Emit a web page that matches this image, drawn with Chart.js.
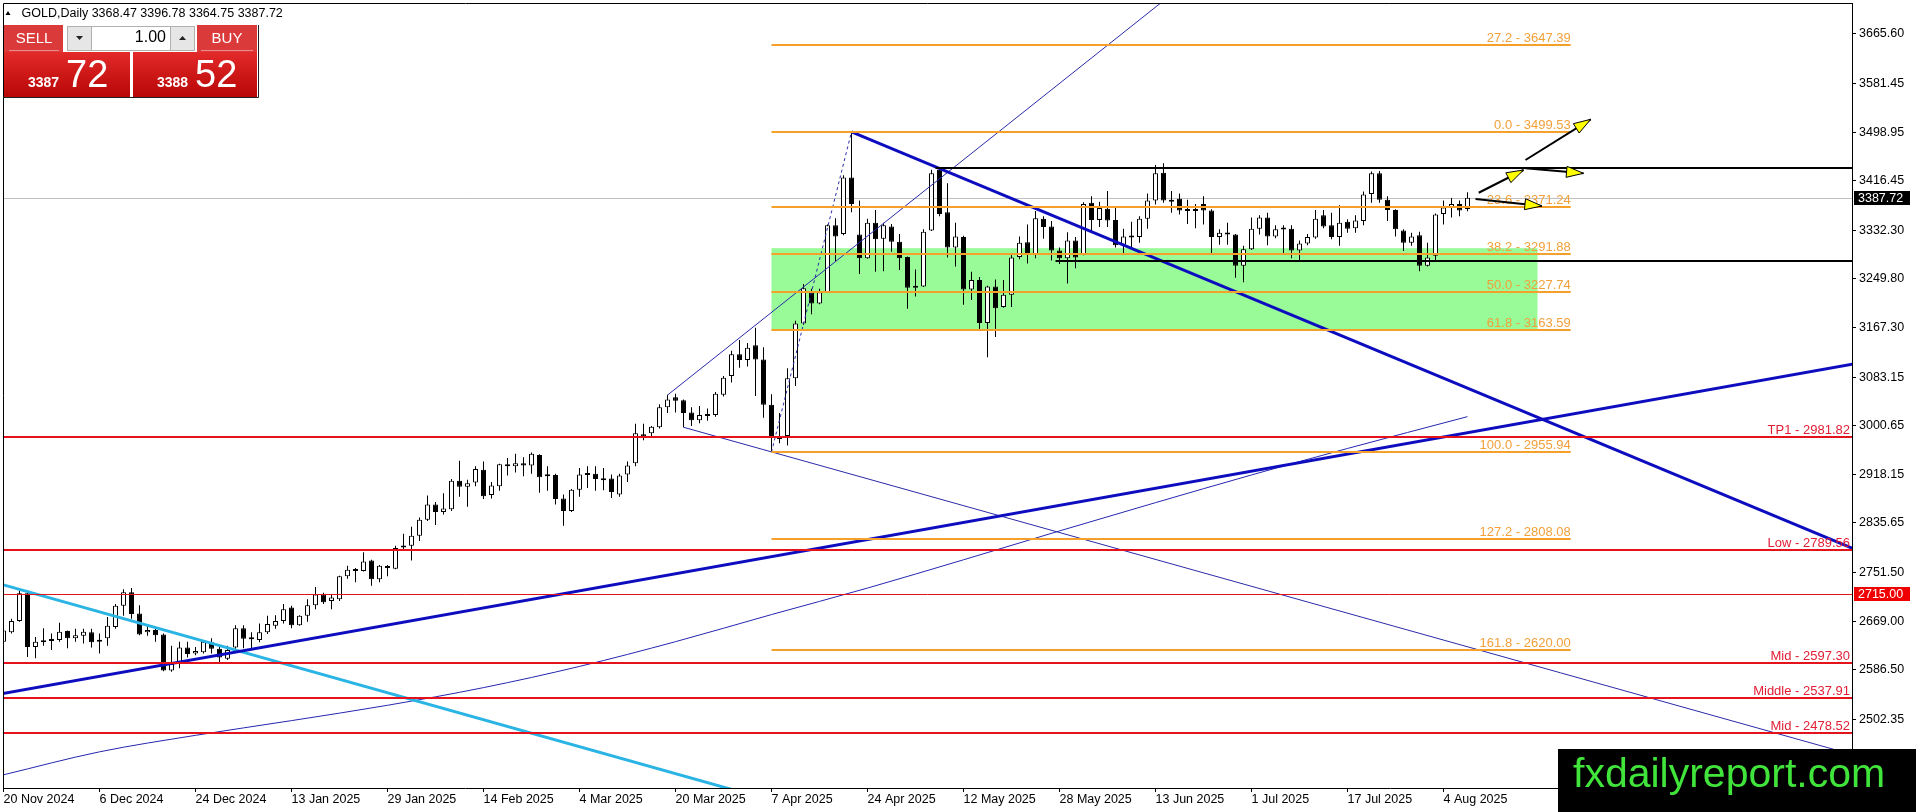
<!DOCTYPE html>
<html>
<head>
<meta charset="utf-8">
<script src="https://cdn.jsdelivr.net/npm/chart.js@4.4.1/dist/chart.umd.min.js"></script>
<style>
  html, body { margin: 0; padding: 0; background: #fff; overflow: hidden; }
  canvas { display: block; }
</style>
</head>
<body>
<canvas id="c" width="1916" height="812" style="width:1916px;height:812px"></canvas>
<script>
// ── DATA ──
const dateBars = [0, 12, 24, 36, 48, 60, 72, 84, 96, 108, 120, 132, 144, 156, 168, 180];
const dateLabels = ['20 Nov 2024', '6 Dec 2024', '24 Dec 2024', '13 Jan 2025', '29 Jan 2025', '14 Feb 2025',
  '4 Mar 2025', '20 Mar 2025', '7 Apr 2025', '24 Apr 2025', '12 May 2025', '28 May 2025',
  '13 Jun 2025', '1 Jul 2025', '17 Jul 2025', '4 Aug 2025'];
const priceTicks = [3665.60, 3581.45, 3498.95, 3416.45, 3332.30, 3249.80, 3167.30, 3083.15,
  3000.65, 2918.15, 2835.65, 2751.50, 2669.00, 2586.50, 2502.35, 2419.85];

const candleOpen = [
  2634,2650,2669,2716,2625,2633,2638,2637,2652,2640,
  2644,2650,2636,2640,2659,2695,2718,2682,2650,2654,
  2646,2585,2596,2624,2614,2616,2633,2622,2605,2624,
  2657,2641,2637,2650,2661,2669,2692,2662,2678,2696,
  2714,2703,2706,2745,2754,2754,2772,2740,2762,2758,
  2794,2797,2814,2841,2867,2854,2859,2907,2897,2904,
  2926,2883,2898,2935,2932,2937,2933,2951,2916,2917,
  2877,2856,2892,2917,2919,2910,2911,2884,2918,2937,
  2986,2988,2998,3032,3049,3044,3023,3010,3017,3019,
  3053,3085,3122,3112,3137,3113,3036,2978,2983,3081,
  3174,3227,3208,3227,3341,3326,3422,3325,3285,3345,
  3318,3339,3313,3287,3236,3237,3332,3435,3363,3303,
  3321,3232,3248,3175,3237,3202,3223,3287,3312,3291,
  3352,3339,3298,3285,3315,3291,3379,3350,3369,3350,
  3308,3322,3321,3352,3383,3430,3384,3386,3367,3367,
  3377,3366,3321,3328,3325,3272,3300,3335,3354,3322,
  3333.5,3335,3298,3310,3320,3358,3341,3321,3347,3336,
  3348,3394,3429,3384,3367,3332,3311,3324,3272,3289,
  3360,3370,3377,3368.47];
const candleHigh = [
  2660,2673,2721,2721,2642,2657,2648,2666,2653,2656,
  2656,2656,2648,2676,2698,2723,2725,2696,2662,2659,
  2648,2627,2634,2634,2625,2637,2640,2627,2627,2662,
  2662,2650,2665,2678,2679,2698,2695,2679,2706,2727,
  2717,2714,2746,2763,2759,2786,2773,2764,2764,2797,
  2817,2829,2845,2882,2871,2886,2910,2941,2909,2932,
  2940,2905,2936,2946,2953,2947,2955,2952,2932,2919,
  2884,2893,2929,2932,2932,2929,2918,2919,2940,3004,
  3004,3000,3037,3053,3055,3045,3032,3034,3030,3058,
  3085,3128,3146,3141,3167,3134,3054,3022,3098,3179,
  3241,3233,3233,3342,3353,3426,3499.5,3383,3352,3367,
  3345,3343,3326,3288,3266,3334,3435,3438,3412,3345,
  3323,3262,3253,3238,3249,3248,3293,3322,3342,3365,
  3356,3348,3303,3329,3321,3380,3390,3381,3399,3373,
  3335,3347,3356,3395,3443,3446,3399,3395,3384,3377,
  3390,3368,3334,3345,3326,3306,3354,3358,3362,3341,
  3341,3341,3315,3326,3367,3367,3362,3375,3351,3358,
  3398,3432,3433,3390,3368,3334,3328,3330,3311,3361,
  3383,3387,3383,3396.78];
const candleLow = [
  2618,2648,2668,2608,2606,2627,2620,2634,2623,2634,
  2631,2624,2614,2627,2656,2678,2673,2645,2644,2634,
  2584,2583,2589,2607,2611,2614,2614,2596,2603,2622,
  2623,2620,2633,2647,2656,2665,2657,2661,2668,2689,
  2698,2689,2703,2741,2735,2753,2729,2735,2745,2757,
  2790,2772,2805,2839,2832,2850,2856,2880,2863,2898,
  2876,2877,2890,2916,2921,2915,2919,2887,2890,2867,
  2831,2854,2880,2895,2890,2891,2878,2880,2905,2932,
  2976,2982,2996,3022,3023,2998,3000,3005,3009,3016,
  3050,3074,3099,3101,3051,3014,2956,2971,2967,3068,
  3172,3190,3207,3226,3280,3324,3363,3258,3284,3262,
  3263,3296,3265,3199,3220,3236,3331,3356,3286,3271,
  3206,3214,3165,3117,3151,3201,3202,3283,3276,3285,
  3318,3281,3275,3242,3268,3290,3328,3338,3338,3303,
  3294,3300,3311,3335,3376,3379,3362,3359,3343,3336,
  3342,3293,3308,3308,3252,3244,3299,3325,3307,3319,
  3293,3285,3279,3307,3318,3336,3317,3306,3328,3328,
  3341,3379,3379,3348,3322,3297,3306,3263,3271,3281,
  3342,3354,3356,3364.75];
const candleClose = [
  2653,2669,2716,2625,2634,2636,2635,2651,2640,2645,
  2651,2633,2634,2661,2695,2718,2681,2646,2654,2645,
  2585,2596,2624,2613,2618,2634,2622,2607,2620,2657,
  2639,2638,2650,2664,2669,2689,2662,2678,2696,2714,
  2701,2709,2745,2756,2756,2770,2740,2763,2759,2793,
  2797,2814,2841,2867,2854,2860,2907,2897,2903,2927,
  2881,2899,2935,2932,2937,2933,2953,2913,2915,2876,
  2856,2892,2918,2919,2910,2908,2888,2916,2933,2988,
  2982,2999,3032,3045,3043,3022,3010,3019,3019,3055,
  3082,3122,3112,3133,3113,3036,2983,2982,3081,3174,
  3234,3208,3227,3341,3322,3422,3377,3285,3345,3317,
  3341,3313,3285,3235,3235,3330,3429,3360,3303,3322,
  3232,3248,3175,3237,3200,3223,3286,3311,3291,3353,
  3338,3298,3285,3315,3286,3377,3350,3370,3349,3307,
  3322,3320,3352,3383,3429,3383,3381,3366,3365,3365,
  3366,3321,3328,3325,3272,3300,3335,3354,3322,3334,
  3335.5,3298,3310,3321,3352,3339,3321,3345,3335,3349,
  3393,3429,3384,3367,3334,3311,3322,3272,3286,3359,
  3371,3377,3366,3387.72];

// moving average
const maBars = [0, 12, 24, 36, 48, 60, 72, 84, 96, 108, 120, 132, 144, 156, 168, 183];
const maValues = [2408, 2447, 2475, 2500, 2526, 2556, 2592, 2634, 2680, 2725, 2773, 2822, 2870, 2917, 2962, 3016];

// trend lines as [bar, price] anchor pairs
const trendAsc = [[-0.4, 2545.2], [231.2, 3105.4]];
const trendDesc = [[106, 3499.5], [231.2, 2792]];
const chanTop = [[83, 3052.6], [150, 3776]];
const chanLow = [[85, 2998], [231.2, 2442]];
const cyanLine = [[-0.4, 2731.9], [95, 2368]];
const fibAnchor = [[96, 2955.94], [106, 3499.53]];

const fibRatios = ['27.2', '0.0', '23.6', '38.2', '50.0', '61.8', '100.0', '127.2', '161.8'];
const fibPrices = [3647.39, 3499.53, 3371.24, 3291.88, 3227.74, 3163.59, 2955.94, 2808.08, 2620.00];
const fibBars = [96, 195.9];

const levelNames = ['TP1', 'Low', '', 'Mid', 'Middle', 'Mid'];
const levelPrices = [2981.82, 2789.56, 2715.00, 2597.30, 2537.91, 2478.52];

const zoneBars = [96, 191.75];
const zonePrices = [3302, 3162];

const rangePrices = [3438.5, 3281];
const rangeStartBars = [116.5, 131.5];

const arrowFromBar = [184, 184.4, 190.25, 190.25];
const arrowFromPrice = [3385.5, 3396.1, 3437.6, 3451.7];
const arrowToBar = [192.3, 190.0, 197.5, 198.4];
const arrowToPrice = [3373.6, 3434.7, 3429.1, 3520.7];

const lastPrice = 3387.72;
const ohlcHeader = 'GOLD,Daily 3368.47 3396.78 3364.75 3387.72';

// ── HELPERS ──
const FONT = '"Liberation Sans", Arial, sans-serif';
const seg = pts => pts.map(p => ({ x: p[0], y: p[1] }));

function hline(ctx, x0, x1, y, w, color) {
  const yy = w % 2 ? Math.round(y) + 0.5 : Math.round(y);
  ctx.strokeStyle = color; ctx.lineWidth = w;
  ctx.beginPath(); ctx.moveTo(x0, yy); ctx.lineTo(x1, yy); ctx.stroke();
}

function arrow(ctx, xa, ya, xb, yb) {
  ctx.strokeStyle = '#000'; ctx.lineWidth = 2;
  ctx.beginPath(); ctx.moveTo(xa, ya); ctx.lineTo(xb, yb); ctx.stroke();
  const ang = Math.atan2(yb - ya, xb - xa), L = 17, W = 5.5;
  const bx = xb - L * Math.cos(ang), by = yb - L * Math.sin(ang);
  ctx.beginPath();
  ctx.moveTo(xb, yb);
  ctx.lineTo(bx + W * Math.sin(ang), by - W * Math.cos(ang));
  ctx.lineTo(bx - W * Math.sin(ang), by + W * Math.cos(ang));
  ctx.closePath();
  ctx.fillStyle = '#ffff00'; ctx.fill();
  ctx.lineWidth = 1; ctx.stroke();
}

function axisBox(ctx, y, text, bg) {
  ctx.fillStyle = bg;
  ctx.fillRect(1854, Math.round(y) - 7, 56, 14);
  ctx.fillStyle = '#fff';
  ctx.font = '12.5px ' + FONT;
  ctx.textAlign = 'left'; ctx.textBaseline = 'middle';
  ctx.fillText(text, 1858, Math.round(y) + 0.5);
}

function drawPanel(ctx) {
  // small SELL / BUY buttons
  ctx.fillStyle = '#da3a3a';
  ctx.fillRect(4, 25, 59, 27);
  ctx.fillRect(197, 25, 60, 27);
  ctx.fillStyle = '#ee8a8a';
  ctx.fillRect(9, 50, 50, 1);
  ctx.fillRect(201, 50, 52, 1);
  ctx.fillStyle = '#fff';
  ctx.font = '15px ' + FONT;
  ctx.textAlign = 'center'; ctx.textBaseline = 'middle';
  ctx.fillText('SELL', 34, 39);
  ctx.fillText('BUY', 227, 39);

  // lot spinner
  ctx.fillStyle = '#e6e6e6';
  ctx.fillRect(67.5, 26.5, 24, 24);
  ctx.fillRect(170.5, 26.5, 24, 24);
  ctx.fillStyle = '#fff';
  ctx.fillRect(91.5, 26.5, 79, 24);
  ctx.strokeStyle = '#b0b0b0'; ctx.lineWidth = 1;
  ctx.strokeRect(67.5, 26.5, 127, 24);
  ctx.beginPath(); ctx.moveTo(91.5, 26.5); ctx.lineTo(91.5, 50.5);
  ctx.moveTo(170.5, 26.5); ctx.lineTo(170.5, 50.5); ctx.stroke();
  ctx.fillStyle = '#222';
  ctx.beginPath(); ctx.moveTo(76, 36); ctx.lineTo(83, 36); ctx.lineTo(79.5, 40); ctx.closePath(); ctx.fill();
  ctx.beginPath(); ctx.moveTo(179, 40); ctx.lineTo(186, 40); ctx.lineTo(182.5, 36); ctx.closePath(); ctx.fill();
  ctx.fillStyle = '#000';
  ctx.font = '16px ' + FONT;
  ctx.textAlign = 'right';
  ctx.fillText('1.00', 166, 38);

  // big price buttons
  const g = ctx.createLinearGradient(0, 52, 0, 97);
  g.addColorStop(0, '#e32a2a'); g.addColorStop(1, '#b80606');
  ctx.fillStyle = g;
  ctx.fillRect(4, 52, 126, 45);
  ctx.fillRect(133, 52, 124, 45);
  ctx.fillStyle = '#fff';
  ctx.textAlign = 'left'; ctx.textBaseline = 'alphabetic';
  ctx.font = 'bold 14px ' + FONT;
  ctx.fillText('3387', 28, 87);
  ctx.fillText('3388', 157, 87);
  ctx.font = '38px ' + FONT;
  ctx.fillText('72', 66, 87);
  ctx.fillText('52', 195, 87);

  ctx.strokeStyle = '#222'; ctx.lineWidth = 1;
  ctx.beginPath(); ctx.moveTo(258.5, 25); ctx.lineTo(258.5, 97.5); ctx.lineTo(3, 97.5); ctx.stroke();
}

// ── OVERLAY OBJECTS ──
const overlay = {
  id: 'overlay',
  beforeDatasetsDraw(chart) {
    const { ctx, chartArea: a, scales: { x, y } } = chart;
    ctx.save();
    ctx.beginPath(); ctx.rect(a.left, a.top, a.right - a.left, a.bottom - a.top); ctx.clip();
    const x0 = x.getPixelForValue(zoneBars[0]), x1 = x.getPixelForValue(zoneBars[1]);
    const y0 = y.getPixelForValue(zonePrices[0]), y1 = y.getPixelForValue(zonePrices[1]);
    ctx.fillStyle = '#98fb98';
    ctx.fillRect(x0, y0, x1 - x0, y1 - y0);
    hline(ctx, a.left, a.right, y.getPixelForValue(lastPrice), 1, '#c0c0c0');
    ctx.restore();
  },
  afterDatasetsDraw(chart) {
    const { ctx, chartArea: a, scales: { x, y } } = chart;
    ctx.save();
    ctx.beginPath(); ctx.rect(a.left, a.top, a.right - a.left, a.bottom - a.top); ctx.clip();

    // fibonacci levels
    const fx0 = x.getPixelForValue(fibBars[0]), fx1 = x.getPixelForValue(fibBars[1]);
    ctx.font = '13px ' + FONT;
    ctx.textAlign = 'right'; ctx.textBaseline = 'alphabetic';
    fibPrices.forEach((p, i) => {
      const py = y.getPixelForValue(p);
      hline(ctx, fx0, fx1, py, 2, '#f5a02a');
      ctx.fillStyle = '#f2a03a';
      ctx.fillText(fibRatios[i] + ' - ' + p.toFixed(2), fx1, Math.round(py) - 3);
    });

    // red levels
    levelPrices.forEach((p, i) => {
      const py = y.getPixelForValue(p);
      hline(ctx, a.left, a.right, py, levelNames[i] ? 2 : 1, '#e3121b');
      if (levelNames[i]) {
        ctx.fillStyle = '#e11d34';
        ctx.fillText(levelNames[i] + ' - ' + p.toFixed(2), a.right - 2, Math.round(py) - 3);
      }
    });

    // range lines
    rangePrices.forEach((p, i) => {
      hline(ctx, x.getPixelForValue(rangeStartBars[i]), a.right, y.getPixelForValue(p), 2, '#000');
    });

    // arrows
    arrowFromBar.forEach((b, i) => {
      arrow(ctx, x.getPixelForValue(b), y.getPixelForValue(arrowFromPrice[i]),
        x.getPixelForValue(arrowToBar[i]), y.getPixelForValue(arrowToPrice[i]));
    });
    ctx.restore();
  },
  afterDraw(chart) {
    const { ctx, chartArea: a, scales: { y } } = chart;
    ctx.save();
    // frame top / left
    ctx.strokeStyle = '#000'; ctx.lineWidth = 1;
    ctx.beginPath();
    ctx.moveTo(a.left + 0.5, a.bottom); ctx.lineTo(a.left + 0.5, a.top + 0.5); ctx.lineTo(a.right, a.top + 0.5);
    ctx.stroke();

    axisBox(ctx, y.getPixelForValue(lastPrice), lastPrice.toFixed(2), '#000');
    axisBox(ctx, y.getPixelForValue(levelPrices[2]), levelPrices[2].toFixed(2), '#f00000');

    // header
    ctx.fillStyle = '#000';
    ctx.beginPath(); ctx.moveTo(5.5, 15); ctx.lineTo(10.5, 15); ctx.lineTo(8, 11); ctx.closePath(); ctx.fill();
    ctx.font = '12.5px ' + FONT;
    ctx.textAlign = 'left'; ctx.textBaseline = 'middle';
    ctx.fillText(ohlcHeader, 21.5, 13.5);

    drawPanel(ctx);

    // watermark
    ctx.fillStyle = '#000';
    ctx.fillRect(1558, 749, 358, 63);
    ctx.fillStyle = '#41e43a';
    ctx.font = '41px ' + FONT;
    ctx.textAlign = 'left'; ctx.textBaseline = 'alphabetic';
    ctx.fillText('fxdailyreport.com', 1573, 787);
    ctx.restore();
  }
};

// ── CHART ──
const idx = candleOpen.map((_, i) => i);
const wickData = idx.map(i => ({ x: i, y: [candleLow[i], candleHigh[i]] }));
const bodyData = idx.map(i => ({ x: i, y: [candleOpen[i], candleClose[i]] }));
const maData = maBars.map((b, i) => ({ x: b, y: maValues[i] }));

const lineDs = (pts, color, width, dash) => ({
  type: 'line', data: seg(pts), borderColor: color, borderWidth: width,
  borderDash: dash || [], pointRadius: 0, fill: false, tension: 0, order: 0
});

const tickFont = { family: 'Liberation Sans', size: 12.5 };

new Chart(document.getElementById('c'), {
  type: 'bar',
  data: {
    datasets: [
      lineDs(trendAsc, '#0d0dbf', 3),
      lineDs(trendDesc, '#0d0dbf', 3),
      lineDs(cyanLine, '#2ab4e4', 3),
      lineDs(chanTop, '#2a2aa8', 1),
      lineDs(chanLow, '#2a2aa8', 1),
      lineDs(fibAnchor, '#2a2aa8', 1, [3, 3]),
      { label: 'body', data: bodyData,
        backgroundColor: c => candleClose[c.dataIndex] >= candleOpen[c.dataIndex] ? '#fff' : '#000',
        borderColor: '#000', borderWidth: 1, borderSkipped: false, barThickness: 5,
        minBarLength: 2, grouped: false, inflateAmount: 0, order: 3 },
      { label: 'wick', data: wickData, backgroundColor: '#000', borderWidth: 0, barThickness: 1,
        grouped: false, inflateAmount: 0, order: 4 },
      { type: 'line', data: maData, borderColor: '#2626b0', borderWidth: 1, pointRadius: 0,
        fill: false, cubicInterpolationMode: 'monotone', order: 5 }
    ]
  },
  options: {
    responsive: false, animation: false, devicePixelRatio: 1, events: [],
    layout: { padding: { left: 3, top: 3, right: 0, bottom: 0 } },
    plugins: { legend: { display: false }, tooltip: { enabled: false } },
    scales: {
      x: { type: 'linear', min: -0.0625, max: 231.0625, offset: false, bounds: 'data',
        grid: { drawOnChartArea: false, offset: false, tickLength: 4, color: '#000' },
        border: { color: '#000' },
        ticks: { autoSkip: false, maxRotation: 0, align: 'start', padding: 0, color: '#000', font: tickFont,
          callback: (v, i) => dateLabels[i] },
        afterBuildTicks: s => { s.ticks = dateBars.map(v => ({ value: v })); },
        afterFit: s => { s.height = 24; s.paddingLeft = 0; s.paddingRight = 0; } },
      y: { position: 'right', min: 2385.6, max: 3718.2, bounds: 'data',
        grid: { drawOnChartArea: false, tickLength: 4, color: '#000' },
        border: { color: '#000' },
        ticks: { autoSkip: false, padding: 3, color: '#000', font: tickFont, callback: v => v.toFixed(2) },
        afterBuildTicks: s => { s.ticks = priceTicks.map(v => ({ value: v })); },
        afterFit: s => { s.width = 64; s.paddingTop = 0; s.paddingBottom = 0; } }
    }
  },
  plugins: [overlay]
});
</script>
</body>
</html>
